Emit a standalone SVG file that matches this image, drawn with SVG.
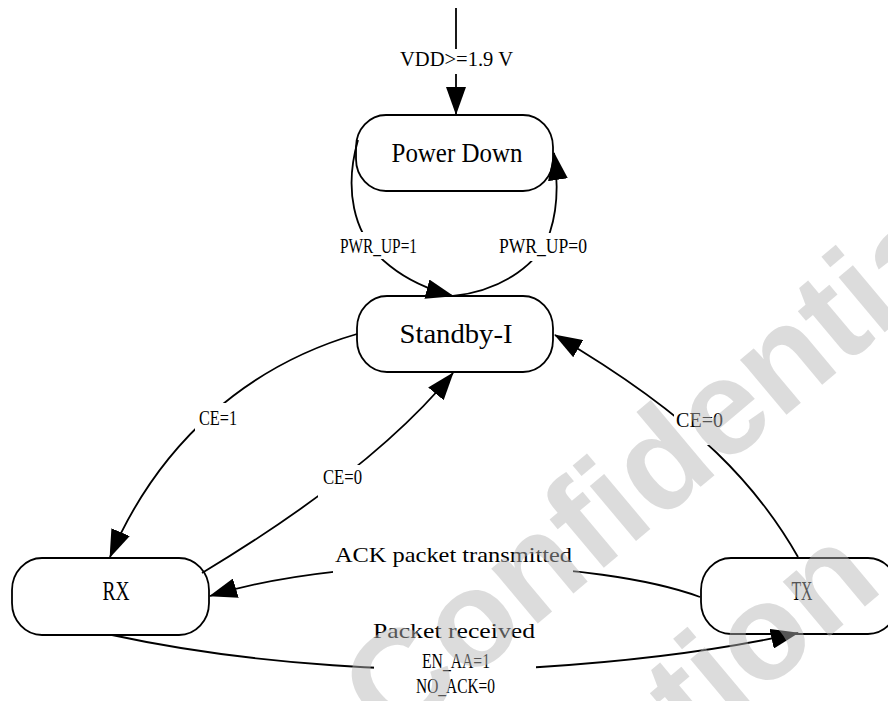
<svg xmlns="http://www.w3.org/2000/svg" width="888" height="701" viewBox="0 0 888 701">
<style>
.node rect{fill:#fff;stroke:#000;stroke-width:1.8}
.nt{font-family:"Liberation Serif",serif;font-size:27px;fill:#000;text-anchor:middle}
.lt{font-family:"Liberation Serif",serif;font-size:21px;fill:#000;text-anchor:middle}
.edge{fill:none;stroke:#000;stroke-width:1.8}
.bg{fill:#fff;stroke:none}
.wm{font-family:"Liberation Sans",Arial,sans-serif;font-weight:bold;font-size:136px;fill:#b5b5b5;fill-opacity:0.47}
</style>
<defs>
<marker id="arr" markerUnits="userSpaceOnUse" viewBox="0 0 28 20" markerWidth="28" markerHeight="20" refX="27" refY="10" orient="auto">
<path d="M0,0 L28,10 L0,20 z" fill="#000"/>
</marker>
</defs>
<rect width="888" height="701" fill="#fff"/>
<g id="node-powerdown" class="node">
<rect x="356" y="115" width="197" height="76" rx="30" ry="32"/>
<text class="nt" x="457" y="162" textLength="131" lengthAdjust="spacingAndGlyphs">Power Down</text>
</g>
<g id="node-standby" class="node">
<rect x="357" y="296" width="196" height="76" rx="30" ry="32"/>
<text class="nt" x="456" y="343" textLength="113" lengthAdjust="spacingAndGlyphs">Standby-I</text>
</g>
<g id="node-rx" class="node">
<rect x="12" y="558" width="197" height="77" rx="30" ry="32"/>
<text class="nt" x="116" y="600" textLength="27" lengthAdjust="spacingAndGlyphs">RX</text>
</g>
<g id="node-tx" class="node">
<rect x="701" y="558" width="197" height="76" rx="30" ry="32"/>
<text class="nt" x="802" y="600" textLength="21" lengthAdjust="spacingAndGlyphs">TX</text>
</g>
<g id="connectors">
<path class="edge" d="M456,8 L456,114" marker-end="url(#arr)"/>
<path class="edge" d="M358,140 C345,185 350,235 390,266 C410,282 430,290 453,296" marker-end="url(#arr)"/>
<path class="edge" d="M453,296 C505,290 540,262 550,232 C558,208 558,180 554,153" marker-end="url(#arr)"/>
<path class="edge" d="M357,334 C250,365 160,440 110,557" marker-end="url(#arr)"/>
<path class="edge" d="M202,573 C290,520 390,450 453,373" marker-end="url(#arr)"/>
<path class="edge" d="M798,557 C760,490 700,420 555,335" marker-end="url(#arr)"/>
<path class="edge" d="M700,597 C600,560 360,550 210,596" marker-end="url(#arr)"/>
<path class="edge" d="M112,635 C250,665 420,675 540,667 C650,660 730,648 798,633" marker-end="url(#arr)"/>
<g id="labels">
<rect class="bg" x="396" y="49" width="122" height="25"/>
<text class="lt" x="456.5" y="66" textLength="113" lengthAdjust="spacingAndGlyphs">VDD&gt;=1.9 V</text>
<rect class="bg" x="336" y="232" width="86" height="27"/>
<text class="lt" x="378.5" y="253" textLength="77" lengthAdjust="spacingAndGlyphs">PWR_UP=1</text>
<rect class="bg" x="494" y="233" width="98" height="28"/>
<text class="lt" x="543" y="253" textLength="88" lengthAdjust="spacingAndGlyphs">PWR_UP=0</text>
<rect class="bg" x="195" y="403" width="46" height="30"/>
<text class="lt" x="218" y="425" textLength="38" lengthAdjust="spacingAndGlyphs">CE=1</text>
<rect class="bg" x="318" y="465" width="48" height="33"/>
<text class="lt" x="342.5" y="484" textLength="39" lengthAdjust="spacingAndGlyphs">CE=0</text>
<rect class="bg" x="674" y="405" width="52" height="40"/>
<text class="lt" x="699.5" y="427" textLength="47" lengthAdjust="spacingAndGlyphs">CE=0</text>
<rect class="bg" x="333" y="543" width="240" height="30"/>
<text class="lt" x="453.5" y="562" textLength="237" lengthAdjust="spacingAndGlyphs">ACK packet transmitted</text>
<rect class="bg" x="374" y="620" width="162" height="81"/>
<text class="lt" x="454" y="638" textLength="162" lengthAdjust="spacingAndGlyphs">Packet received</text>
<text class="lt" x="456" y="668" textLength="68" lengthAdjust="spacingAndGlyphs">EN_AA=1</text>
<text class="lt" x="455.5" y="693" textLength="79" lengthAdjust="spacingAndGlyphs">NO_ACK=0</text>
</g>
</g>
<g id="watermark" class="wm">
<text transform="translate(391.5,746) rotate(-40)">Confidential</text>
<text transform="translate(312.6,1069.9) rotate(-40)">Information</text>
</g>
</svg>
